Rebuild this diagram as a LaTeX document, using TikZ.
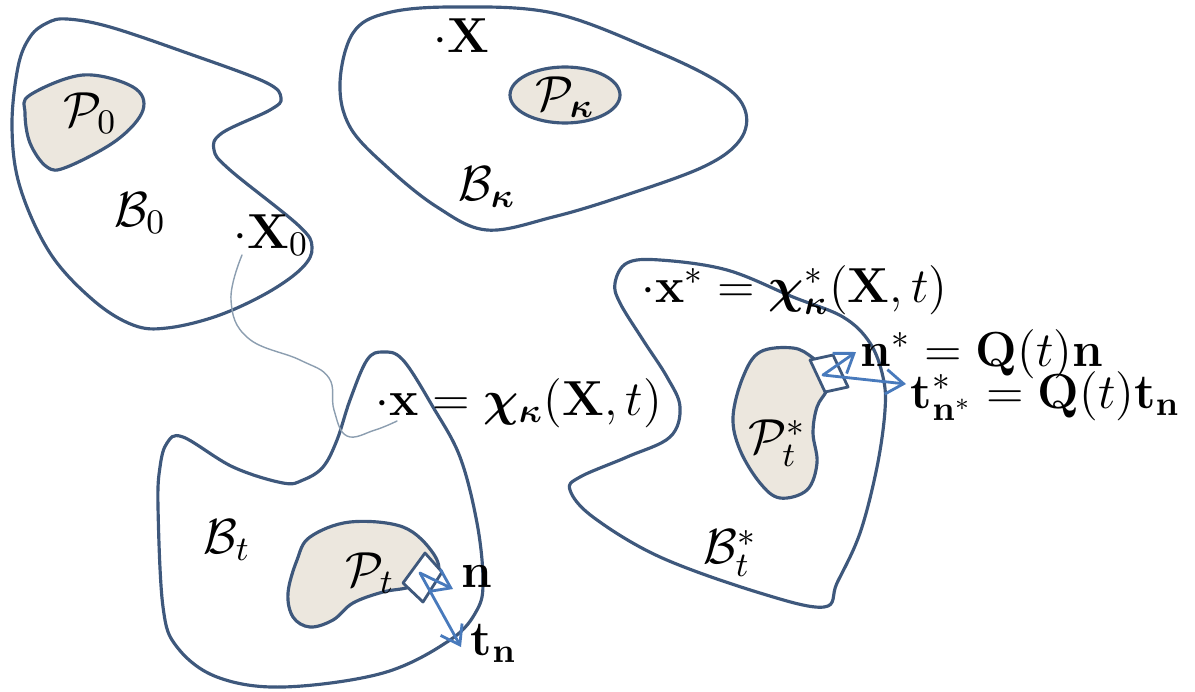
\RequirePackage{fix-cm}
\documentclass[tikz,border=0pt]{standalone}
\usepackage{amsmath,bm}
\usetikzlibrary{arrows.meta}
\definecolor{rim}{RGB}{62,88,124}
\definecolor{sand}{RGB}{236,231,222}
\definecolor{vecblue}{RGB}{72,122,188}
\definecolor{trail}{RGB}{140,158,176}
\begin{document}
\begin{tikzpicture}[>={Straight Barb[length=5pt,width=7pt]},line join=round,line cap=round,x=0.01cm,y=-0.01cm,
	font=\fontsize{14}{17}\selectfont,
	body/.style={draw=rim,line width=0.9pt,smooth cycle,tension=0.6},
	part/.style={body,fill=sand},
	facet/.style={draw=rim,line width=0.8pt,fill=white},
	vec/.style={->,draw=vecblue,line width=0.8pt},
	eq/.style={anchor=base west,inner sep=0pt}]
	\useasboundingbox (0,0) rectangle (1195,691);
	% reference configuration B_0
	\draw[body] plot coordinates {(30,37) (47,23) (67,19) (110,27) (187,53) (265,82) (281,98) (270,110) (222,133) (214,150) (230,170) (298,225) (312,247) (302,268) (267,293) (217,316) (167,328) (133,325) (93,300) (50,253) (20,187) (12,127) (18,67)};
	\draw[part] plot coordinates {(30,95) (83,75) (133,87) (143,110) (117,140) (67,167) (47,167) (30,143) (25,113)};
	\node (p0) at (90,113) {$\mathcal{P}_0$};
	\node (b0) at (140,213) {$\mathcal{B}_0$};
	\node[eq] (x0) at (233,248) {$\cdot\mathbf{X}_0$};
	% reference configuration B_kappa
	\draw[body] plot coordinates {(340,83) (353,33) (387,13) (453,7) (553,13) (653,50) (720,83) (745,110) (740,140) (703,167) (620,197) (553,217) (487,230) (437,207) (387,167) (350,127)};
	\draw[rim,line width=0.9pt,fill=sand] (565,95) ellipse (55 and 28);
	\node (pk) at (565,97) {$\mathcal{P}_{\bm\kappa}$};
	\node (bk) at (487,187) {$\mathcal{B}_{\bm\kappa}$};
	\node[eq] (xk) at (433,53) {$\cdot\mathbf{X}$};
	% current configuration B_t
	\draw[body] plot coordinates {(167,443) (183,437) (233,467) (283,483) (303,480) (323,467) (337,440) (350,400) (367,360) (383,352) (403,360) (433,407) (460,457) (477,523) (483,580) (477,610) (450,640) (383,673) (283,687) (217,677) (177,647) (163,607) (158,507) (160,467)};
	\draw[part] plot coordinates {(310,537) (350,522) (403,527) (433,553) (437,575) (410,587) (383,592) (353,603) (333,620) (310,627) (293,617) (288,593) (297,560)};
	\draw[facet] (425,553) -- (442,572) -- (423,602) -- (403,583) -- cycle;
	\coordinate (o) at (420,573);
	\coordinate (ntip) at (453,589);
	\coordinate (ttip) at (461,647);
	\node (pt) at (370,573) {$\mathcal{P}_t$};
	\node (bt) at (227,540) {$\mathcal{B}_t$};
	\node[eq] (n) at (461,587) {$\mathbf{n}$};
	\node[eq] (tn) at (470,655) {$\mathbf{t}_{\mathbf{n}}$};
	\draw[vec] (o) -- (ntip);
	\draw[vec] (o) -- (ttip);
	\node[eq] (xt) at (375,415) {$\cdot\mathbf{x}=\bm{\chi}_{\bm\kappa}(\mathbf{X},t)$};
	% motion path
	\coordinate (s0) at (242,255);
	\coordinate (s1) at (397,421);
	\draw[trail,line width=0.4pt] plot[smooth,tension=0.7] coordinates {(s0) (231,300) (248,338) (300,360) (329,378) (334,410) (347,436) (375,430) (s1)};
	% superposed configuration B_t^*
	\draw[body] plot coordinates {(620,303) (615,283) (627,263) (660,260) (727,270) (793,297) (843,317) (870,343) (883,377) (885,410) (877,467) (860,533) (837,583) (824,607) (760,593) (660,557) (593,517) (570,490) (580,477) (627,457) (670,437) (680,407) (667,377) (643,340)};
	\draw[part] plot coordinates {(743,377) (760,352) (793,348) (813,358) (830,375) (827,390) (817,407) (813,433) (817,463) (807,490) (780,498) (760,483) (740,450) (733,417)};
	\draw[facet] (810,360) -- (833,355) -- (848,387) -- (825,392) -- cycle;
	\coordinate (os) at (823,375);
	\coordinate (nstip) at (856,352);
	\coordinate (tstip) at (906,384);
	\node (pts) at (777,443) {$\mathcal{P}_t^*$};
	\node (bts) at (730,553) {$\mathcal{B}_t^*$};
	\node[eq] (xs) at (641,302) {$\cdot\mathbf{x}^*=\bm{\chi}_{\bm\kappa}^*(\mathbf{X},t)$};
	\node[eq] (ns) at (860,366) {$\mathbf{n}^*=\mathbf{Q}(t)\mathbf{n}$};
	\node[eq] (ts) at (910,408) {$\mathbf{t}_{\mathbf{n}^*}^*=\mathbf{Q}(t)\mathbf{t}_{\mathbf{n}}$};
	\draw[vec] (os) -- (nstip);
	\draw[vec] (os) -- (tstip);
\end{tikzpicture}
\end{document}
